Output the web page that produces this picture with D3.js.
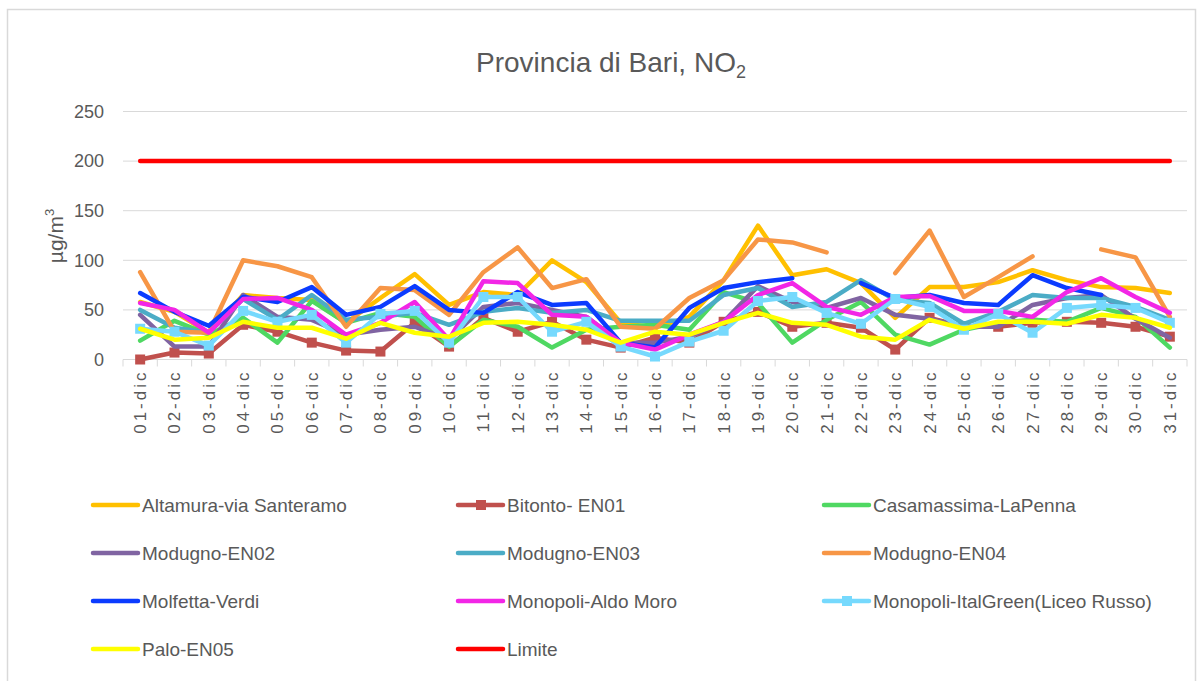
<!DOCTYPE html>
<html>
<head>
<meta charset="utf-8">
<script src="https://cdn.jsdelivr.net/npm/d3@7"></script>
<style>
  body { margin: 0; background: #fff; }
  text { fill: #595959; }
</style>
</head>
<body>
<div class="chart"></div>
<script>
const days = ["01-dic","02-dic","03-dic","04-dic","05-dic","06-dic","07-dic","08-dic","09-dic","10-dic",
              "11-dic","12-dic","13-dic","14-dic","15-dic","16-dic","17-dic","18-dic","19-dic","20-dic",
              "21-dic","22-dic","23-dic","24-dic","25-dic","26-dic","27-dic","28-dic","29-dic","30-dic","31-dic"];

const altamura   = [58, 48, 27, 65, 62, 60, 37, 62, 86, 55, 68, 65, 100, 78, 37, 32, 43, 80, 135, 85, 91, 77, 42, 73, 73, 78, 90, 80, 73, 72, 67];
const bitonto    = [0, 7, 6, 35, 28, 17, 9, 8, 37, 13, 42, 28, 38, 20, 12, 22, 17, 38, 48, 33, 37, 32, 10, 42, 33, 33, 37, 38, 37, 33, 23];
const casamassima= [19, 39, 25, 42, 17, 59, 37, 47, 43, 13, 40, 33, 12, 30, 33, 35, 30, 68, 57, 17, 40, 58, 25, 15, 30, 37, 40, 38, 52, 43, 12];
const modugno02  = [45, 13, 13, 65, 43, 40, 25, 30, 33, 20, 53, 57, 50, 43, 17, 17, 23, 38, 74, 58, 52, 62, 45, 41, 33, 33, 55, 62, 65, 41, 22];
const modugno03  = [50, 32, 27, 61, 40, 65, 40, 43, 47, 35, 48, 52, 47, 50, 39, 39, 39, 65, 72, 53, 58, 80, 60, 57, 36, 48, 65, 62, 62, 53, 40];
const modugno04  = [88, 28, 27, 100, 94, 83, 33, 72, 70, 45, 88, 113, 72, 81, 33, 31, 62, 80, 121, 118, 108, null, 87, 130, 63, 83, 104, null, 111, 103, 43];
const molfetta   = [67, 48, 34, 63, 58, 73, 45, 53, 74, 50, 47, 68, 55, 57, 17, 12, 52, 72, 78, 82, null, 77, 62, 65, 57, 55, 85, 72, 65, null, null];
const aldoMoro   = [57, 50, 27, 61, 62, 50, 25, 37, 58, 20, 79, 77, 45, 43, 17, 10, 25, 38, 65, 77, 53, 45, 63, 64, 49, 49, 43, 68, 82, 63, 47];
const italGreen  = [31, 28, 14, 49, 38, 45, 17, 46, 49, 17, 63, 63, 28, 38, 13, 3, 18, 29, 59, 63, 47, 36, 61, 53, 30, 46, 27, 52, 55, 52, 37];
const palo       = [31, 20, 22, 38, 32, 32, 21, 37, 27, 23, 37, 38, 35, 30, 17, 28, 25, 37, 47, 37, 35, 23, 20, 40, 31, 38, 38, 36, 45, 42, 32];
const limite     = [200, 200, 200, 200, 200, 200, 200, 200, 200, 200, 200, 200, 200, 200, 200, 200,
                    200, 200, 200, 200, 200, 200, 200, 200, 200, 200, 200, 200, 200, 200, 200];

const seriesNames = ["Altamura-via Santeramo", "Bitonto- EN01", "Casamassima-LaPenna",
                     "Modugno-EN02", "Modugno-EN03", "Modugno-EN04",
                     "Molfetta-Verdi", "Monopoli-Aldo Moro", "Monopoli-ItalGreen(Liceo Russo)",
                     "Palo-EN05", "Limite"];
const seriesValues = [altamura, bitonto, casamassima, modugno02, modugno03, modugno04,
                      molfetta, aldoMoro, italGreen, palo, limite];
const seriesColors = ["#FFC000", "#C0504D", "#4FD862", "#8064A2", "#4BACC6", "#F79646",
                      "#0B3BFF", "#F226E6", "#76D9FD", "#FFFF00", "#FF0000"];
const withMarker = [false, true, false, false, false, false, false, false, true, false, false];

const yTicks = [0, 50, 100, 150, 200, 250];

const w = 1203;
const h = 681;

const svg = d3.select('.chart')
    .append('svg')
    .attr('width', w)
    .attr('height', h);

// outer frame
svg.append('rect')
    .attr('x', 7.5).attr('y', 9.5)
    .attr('width', 1188).attr('height', 700)
    .attr('fill', 'none')
    .attr('stroke', '#D9D9D9')
    .attr('stroke-width', 1.5);

const x = d3.scaleBand()
    .domain(days)
    .range([123, 1187]);

const y = d3.scaleLinear()
    .domain([0, 250])
    .range([359.5, 111.5]);

const cx = (d) => x(d) + x.bandwidth() / 2;

// gridlines
svg.append('g')
    .selectAll('line')
    .data(yTicks.slice(1))
    .enter()
    .append('line')
    .attr('x1', 123).attr('x2', 1187)
    .attr('y1', (d) => y(d)).attr('y2', (d) => y(d))
    .attr('stroke', '#D9D9D9')
    .attr('stroke-width', 1);

const yAxis = d3.axisLeft(y).tickValues(yTicks).tickSize(0).tickPadding(0);
svg.append('g')
    .attr('transform', 'translate(104,0)')
    .call(yAxis)
    .call(g => g.select('.domain').remove())
    .selectAll('text')
    .attr('font-family', '"Liberation Sans", Arial, sans-serif')
    .attr('font-size', 18)
    .style('fill', '#595959');

// category axis line and ticks between categories
svg.append('line')
    .attr('x1', 123).attr('x2', 1187)
    .attr('y1', y(0)).attr('y2', y(0))
    .attr('stroke', '#D9D9D9');

svg.append('g')
    .selectAll('line')
    .data(days.concat(['end']))
    .enter()
    .append('line')
    .attr('x1', (d) => d === 'end' ? 1187 : x(d))
    .attr('x2', (d) => d === 'end' ? 1187 : x(d))
    .attr('y1', y(0)).attr('y2', y(0) + 7)
    .attr('stroke', '#D9D9D9');

const xAxis = d3.axisBottom(x).tickSize(0).tickPadding(0);
svg.append('g')
    .attr('transform', 'translate(0,' + y(0) + ')')
    .call(xAxis)
    .call(g => g.select('.domain').remove())
    .selectAll('text')
    .attr('font-family', '"Liberation Sans", Arial, sans-serif')
    .attr('font-size', 17)
    .attr('letter-spacing', 3)
    .attr('text-anchor', 'end')
    .attr('dy', '0.35em')
    .attr('transform', 'translate(0,10) rotate(-90)')
    .style('fill', '#595959');

// series lines
const line = d3.line()
    .defined((d) => d !== null)
    .x((d, i) => cx(days[i]))
    .y((d) => y(d));

seriesValues.forEach((vals, k) => {
    svg.append('path')
        .datum(vals)
        .attr('d', line)
        .attr('fill', 'none')
        .attr('stroke', seriesColors[k])
        .attr('stroke-width', 4.5)
        .attr('stroke-linejoin', 'round')
        .attr('stroke-linecap', 'round');

    if (withMarker[k]) {
        svg.append('g')
            .selectAll('rect')
            .data(vals.map((v, i) => ({v: v, d: days[i]})).filter(p => p.v !== null))
            .enter()
            .append('rect')
            .attr('x', (p) => cx(p.d) - 5)
            .attr('y', (p) => y(p.v) - 5)
            .attr('width', 10).attr('height', 10)
            .attr('fill', seriesColors[k]);
    }
});

// title
const title = svg.append('text')
    .attr('x', 611).attr('y', 72)
    .attr('text-anchor', 'middle')
    .attr('font-family', '"Liberation Sans", sans-serif')
    .attr('font-size', 28)
    .style('fill', '#595959');
title.append('tspan').text('Provincia di Bari, NO');
title.append('tspan').attr('font-size', 18).attr('dy', 6).text('2');

// y axis title
const yTitle = svg.append('text')
    .attr('transform', 'translate(63,236) rotate(-90)')
    .attr('text-anchor', 'middle')
    .attr('font-family', '"Liberation Sans", Arial, sans-serif')
    .attr('font-size', 21)
    .style('fill', '#595959');
yTitle.append('tspan').text('µg/m');
yTitle.append('tspan').attr('font-size', 13).attr('dy', -9).text('3');

// legend
const legendCols = [142, 507, 873];
const legendRows = [505, 553, 601, 649];

const legend = svg.append('g')
    .selectAll('g')
    .data(seriesNames)
    .enter()
    .append('g')
    .attr('transform', (d, i) => 'translate(' + legendCols[i % 3] + ',' + legendRows[Math.floor(i / 3)] + ')');

legend.append('line')
    .attr('x1', -49).attr('x2', -4)
    .attr('y1', 0).attr('y2', 0)
    .attr('stroke', (d, i) => seriesColors[i])
    .attr('stroke-width', 4.5)
    .attr('stroke-linecap', 'round');

legend.filter((d, i) => withMarker[i])
    .append('rect')
    .attr('x', -31).attr('y', -5)
    .attr('width', 10).attr('height', 10)
    .attr('fill', (d) => seriesColors[seriesNames.indexOf(d)]);

legend.append('text')
    .attr('x', 0)
    .attr('y', 7)
    .attr('font-family', '"Liberation Sans", sans-serif')
    .attr('font-size', 19)
    .style('fill', '#595959')
    .text((d) => d);
</script>
</body>
</html>
